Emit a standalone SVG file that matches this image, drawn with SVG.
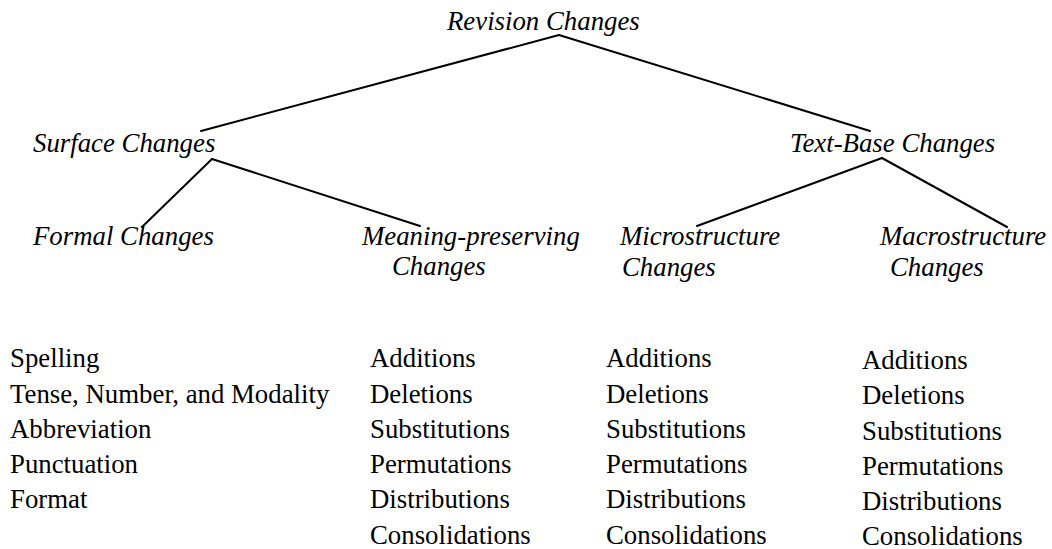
<svg xmlns="http://www.w3.org/2000/svg" width="1052" height="549" viewBox="0 0 1052 549" font-family="'Liberation Serif','Times New Roman',serif">
<style>
text{font-family:"Liberation Serif","Times New Roman",serif;font-size:26.8px;fill:#000}
.i{font-style:italic}
.c line{stroke:#000;stroke-width:2;stroke-linecap:round}
</style>
<rect width="1052" height="549" fill="#fff"/>
<g class="c" id="connectors">
<line x1="559" y1="35" x2="201" y2="131"/>
<line x1="559" y1="35" x2="870" y2="131"/>
<line x1="212" y1="159" x2="142" y2="227"/>
<line x1="212" y1="159" x2="420" y2="226"/>
<line x1="882" y1="158" x2="697" y2="226"/>
<line x1="882" y1="158" x2="1007" y2="227"/>
</g>
<g id="revision"><text class="i" x="447" y="30">Revision Changes</text></g>
<g id="surface"><text class="i" x="33" y="152">Surface Changes</text></g>
<g id="textbase"><text class="i" x="790" y="152">Text-Base Changes</text></g>
<g id="formal"><text class="i" x="33" y="245">Formal Changes</text></g>
<g id="meaning"><text class="i" x="362" y="245">Meaning-preserving</text><text class="i" x="392" y="275">Changes</text></g>
<g id="micro"><text class="i" x="620" y="245">Microstructure</text><text class="i" x="622" y="276">Changes</text></g>
<g id="macro"><text class="i" x="880" y="245">Macrostructure</text><text class="i" x="890" y="276">Changes</text></g>
<g id="formal-list">
<text x="10" y="367">Spelling</text>
<text x="10" y="402.5">Tense, Number, and Modality</text>
<text x="10" y="438">Abbreviation</text>
<text x="10" y="473">Punctuation</text>
<text x="10" y="508">Format</text>
</g>
<g id="meaning-list">
<text x="370" y="367">Additions</text>
<text x="370" y="402.5">Deletions</text>
<text x="370" y="438">Substitutions</text>
<text x="370" y="473">Permutations</text>
<text x="370" y="508">Distributions</text>
<text x="370" y="543.5">Consolidations</text>
</g>
<g id="micro-list">
<text x="606" y="367">Additions</text>
<text x="606" y="402.5">Deletions</text>
<text x="606" y="438">Substitutions</text>
<text x="606" y="473">Permutations</text>
<text x="606" y="508">Distributions</text>
<text x="606" y="543.5">Consolidations</text>
</g>
<g id="macro-list">
<text x="862" y="368.5">Additions</text>
<text x="862" y="404">Deletions</text>
<text x="862" y="439.5">Substitutions</text>
<text x="862" y="474.5">Permutations</text>
<text x="862" y="509.5">Distributions</text>
<text x="862" y="545">Consolidations</text>
</g>
</svg>
